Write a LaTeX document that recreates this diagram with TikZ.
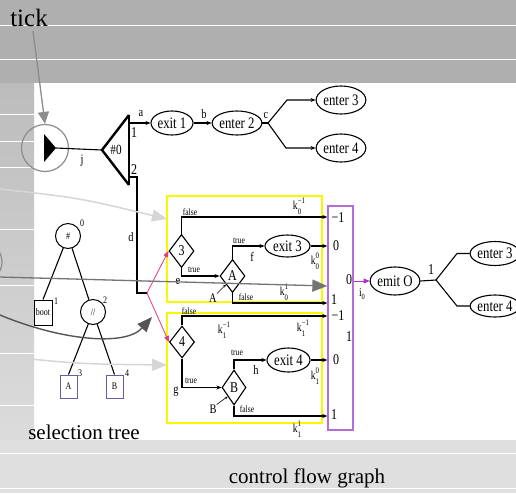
\documentclass[tikz,border=0pt]{standalone}
\usepackage{fontspec}
\setmainfont{Liberation Serif}
\newfontfamily\nfont[FakeStretch=0.8]{Liberation Serif}
\usetikzlibrary{arrows.meta,shapes.geometric}
\newcommand\fsz[1]{\fontsize{#1}{#1}\selectfont}
% k with an upper and a lower index stacked after it
\newcommand\kk[2]{k\raisebox{-4.5pt}{\fsz{8.5}\shortstack[l]{#1\\[2.5pt]#2}}}
\definecolor{bandgray}{HTML}{AFAFAF}
\definecolor{lowgray}{HTML}{DFDFDF}
\definecolor{stripA}{HTML}{BCBCBC}
\definecolor{stripB}{HTML}{DCDCDC}
\definecolor{hlyellow}{HTML}{F8F800}
\definecolor{selpurple}{HTML}{B56CD8}
\definecolor{wirepink}{HTML}{E0388A}
\definecolor{emitpurple}{HTML}{B428D2}
\definecolor{boxviolet}{HTML}{6A5AA8}
\definecolor{ovdark}{HTML}{555555}
\definecolor{ovmid}{HTML}{747474}
\definecolor{ovtick}{HTML}{8C8C8C}
\definecolor{ovlight}{HTML}{D6D6D6}
\tikzset{
  wire/.style={line width=1.1pt, line join=miter},
  arr/.style={wire, -{Stealth[length=5pt,width=4pt]}},
  ev/.style={ellipse, draw, line width=1.1pt, inner sep=0pt,
    minimum width=42pt, minimum height=24pt, font=\nfont\fsz{16}},
  dia/.style={diamond, draw, line width=1.1pt, inner sep=0pt,
    minimum width=25pt, minimum height=33pt, font=\nfont\fsz{15}},
  lab/.style={inner sep=0pt, font=\nfont\fsz{13}},
  tf/.style={inner sep=0pt, font=\nfont\fsz{9.5}},
  kl/.style={inner sep=0pt, font=\nfont\fsz{12}},
  num/.style={inner sep=0pt, font=\nfont\fsz{15}},
  small/.style={inner sep=0pt, font=\nfont\fsz{10}},
  ybox/.style={draw=hlyellow, line width=1.8pt},
  pinkarr/.style={draw=wirepink, line width=0.8pt, -{Triangle[length=6pt,width=5pt,fill=wirepink]}},
  title/.style={inner sep=0pt, font=\fsz{21}},
  treenode/.style={circle, draw, line width=1pt, minimum size=25pt, inner sep=0pt, font=\nfont\fsz{10}},
  leaf/.style={draw=boxviolet, line width=1pt, minimum width=17pt, minimum height=23pt, inner sep=0pt, font=\nfont\fsz{10}},
  bigtip/.style={-{Triangle[length=15pt,width=12pt]}},
}
\begin{document}
\begin{tikzpicture}[x=1pt,y=-1pt]
\useasboundingbox (0,0) rectangle (516,493);
\clip (0,0) rectangle (516,493);

% slide background
\fill[white] (0,0) rectangle (516,493);
\fill[bandgray] (0,0) rectangle (516,83);
\shade[top color=stripA, bottom color=stripB] (0,83) rectangle (34,440);
\fill[lowgray] (0,440) rectangle (516,493);
\foreach \yy in {25,59,453,488} \draw[white, line width=1pt] (0,\yy) -- (516,\yy);
\foreach \yy in {114,141,167,229,285,353,405} \draw[white, line width=1pt] (0,\yy) -- (34,\yy);

% titles
\node[inner sep=0pt, font=\fsz{25}] (tickword) at (29,18) {tick};
\node[title] (seltitle) at (84,432) {selection tree};
\node[title] (cfgtitle) at (307,478) {control flow graph};

% tick source and the #0 selector
\node[circle, draw=ovtick, line width=1.2pt, minimum size=47pt, inner sep=0pt] (tk) at (45,148) {};
\fill (44,134) -- (44,162) -- (56,148) -- cycle;
\coordinate (tip) at (56,148);
\coordinate (apex) at (102,150);
\coordinate (stop) at (129,115);
\coordinate (sbot) at (129,185);
\draw[line width=2.4pt, line join=miter] (stop) -- (apex) -- (sbot);
\draw[line width=2.6pt] (stop) -- (sbot);
\node[inner sep=0pt, font=\nfont\fsz{14}] (sel0) at (116,150) {\#0};
\node[num] (o1) at (134,133) {1};
\node[num] (o2) at (134,170) {2};
\draw[wire] (tip) -- (apex);
\node[lab] (lj) at (82,161) {j};

% first row of the graph
\node[ev] (exit1) at (172,123) {exit 1};
\node[ev, minimum width=46pt] (enter2) at (237,123) {enter 2};
\node[ev, minimum width=44pt, minimum height=28pt] (enter3) at (341,100) {enter 3};
\node[ev, minimum width=44pt, minimum height=28pt] (enter4) at (341,148) {enter 4};
\coordinate (pa) at (129,123);
\coordinate (cc) at (268,123);
\draw[arr] (pa) -- (exit1.west);
\draw[arr] (exit1.east) -- (enter2.west);
\draw[wire] (enter2.east) -- (cc);
\draw[arr] (cc) -- (287,100) -- (enter3.west);
\draw[arr] (cc) -- (286,148) -- (enter4.west);
\node[lab] (la) at (141,114) {a};
\node[lab] (lb) at (204,114) {b};
\node[lab] (lc) at (266,115) {c};

% branch d down to the two test blocks
\coordinate (pd) at (129,177);
\coordinate (split) at (147,293);
\draw[wire] (pd) -- (137,177) -- (137,293) -- (split);
\node[lab] (ld) at (131,237) {d};

% yellow blocks and purple collector
\draw[ybox] (167,196) rectangle (322,302);
\draw[ybox] (167,313) rectangle (322,423);
\node[draw=selpurple, line width=1.3pt, minimum width=25pt, minimum height=224pt, inner sep=0pt] (pb) at (340.5,318) {};

% block for thread 3
\node[dia] (d3) at (181.5,251) {3};
\node[dia] (dA) at (232.5,276) {A};
\node[ev, minimum width=45pt, minimum height=22pt] (x3) at (287.5,246) {exit 3};
\draw[arr] (d3.north) |- (pb.west |- 0,217);
\draw[arr] (d3.south) |- (dA.west);
\draw[arr] (dA.north) |- (x3.west);
\draw[arr] (x3.east) -- (pb.west |- x3.east);
\draw[arr] (dA.south) |- (pb.west |- 0,303);
\node[tf] (f3) at (190,212) {false};
\node[tf] (t3) at (194,270) {true};
\node[tf] (tA) at (239,241) {true};
\node[tf] (fA) at (246,297) {false};
\node[lab] (le) at (178,281) {e};
\node[lab] (lf) at (252,257) {f};
\node[lab] (Alab) at (213,298) {A};
\draw[line width=0.6pt, -{Stealth[length=3pt,width=2.5pt]}] (Alab.north east) -- (dA.south west);
\node[kl] (k03) at (299,206) {\kk{−1}{0}};
\node[kl] (k00) at (315,261) {\kk{0}{0}};
\node[kl] (k01) at (284,292) {\kk{1}{0}};

% block for thread 4
\node[dia, minimum height=32pt] (d4) at (182,342) {4};
\node[dia, minimum width=24pt, minimum height=35pt] (dB) at (234,387.5) {B};
\node[ev, minimum width=43pt, minimum height=24pt] (x4) at (288.5,360) {exit 4};
\draw[arr] (d4.north) |- (pb.west |- 0,316);
\draw[arr] (d4.south) |- (dB.west);
\draw[arr] (dB.north) |- (x4.west);
\draw[arr] (x4.east) -- (pb.west |- x4.east);
\draw[arr, line width=1.6pt] (dB.south) |- (pb.west |- 0,416);
\node[tf] (f4) at (189,311) {false};
\node[tf] (t4) at (191,381) {true};
\node[tf] (tB) at (237,353) {true};
\node[tf] (fB) at (247,409) {false};
\node[lab] (lg) at (176,392) {g};
\node[lab] (lh) at (256,370) {h};
\node[lab] (Blab) at (213,409) {B};
\draw[line width=0.6pt, -{Stealth[length=3pt,width=2.5pt]}] (Blab.north east) -- (dB.south west);
\node[kl] (k14a) at (224,330) {\kk{−1}{1}};
\node[kl] (k14b) at (303,328) {\kk{−1}{1}};
\node[kl] (k10) at (315,376) {\kk{0}{1}};
\node[kl] (k11) at (297,429) {\kk{1}{1}};

% pink fan-out
\draw[pinkarr] (split) -- (d3.west);
\draw[pinkarr] (split) -- (d4.west);

% values in the collector
\node[num] (v1) at (338,218) {−1};
\node[num] (v2) at (336,246) {0};
\node[num] (v3) at (334,300) {1};
\node[num] (v4) at (338,316) {−1};
\node[num] (v5) at (336,360) {0};
\node[num] (v6) at (334,415) {1};
\node[num] (vs0) at (349,280) {0};
\node[num] (vs1) at (349,337) {1};

% emit and last fork
\node[ev, minimum width=44pt, minimum height=28pt] (emit) at (395,281) {emit O};
\draw[draw=emitpurple, line width=0.9pt, -{Triangle[length=6pt,width=5pt]}] (pb.east |- emit.west) -- (emit.west);
\node[kl] (li0) at (362,294) {i\raisebox{-3pt}{\fsz{8}0}};
\node[ev, minimum width=44pt, minimum height=24pt] (enter3b) at (495,253.5) {enter 3};
\node[ev, minimum width=44pt, minimum height=22pt] (enter4b) at (495,306) {enter 4};
\coordinate (br) at (436,280);
\draw[wire] (emit.east) -- (br);
\draw[wire] (br) -- (457,253.5) -- (enter3b.west);
\draw[wire] (br) -- (457,306) -- (enter4b.west);
\node[num] (l1) at (431,270) {1};

% selection tree
\node[treenode] (sroot) at (68,236) {\#};
\node[treenode] (spar) at (93,312) {//};
\node[draw, line width=1pt, minimum width=18pt, minimum height=25pt, inner sep=0pt, font=\nfont\fsz{10}] (sboot) at (43,312.5) {boot};
\node[leaf] (sA) at (68.5,386.5) {A};
\node[leaf] (sB) at (114.5,386.5) {B};
\draw[wire] (sroot) -- (sboot.north);
\draw[wire] (sroot) -- (spar);
\draw[wire] (spar) -- (sA.north);
\draw[wire] (spar) -- (sB.north);
\node[small] (n0) at (82,223) {0};
\node[small] (n1) at (56,301) {1};
\node[small] (n2) at (105,300) {2};
\node[small] (n3) at (80,373) {3};
\node[small] (n4) at (127,373) {4};

% overlay pointers
\coordinate (tickfoot) at (33,31);
\draw[ovtick, line width=1.3pt, -{Triangle[length=12pt,width=11pt]}] (tickfoot) -- (tk.north);
\draw[ovlight, line width=1.5pt, bigtip] (0,189) .. controls (80,198) .. (167,219);
\draw[ovlight, line width=1.5pt, bigtip] (0,356) .. controls (80,364) .. (167,365);
\draw[ovtick, line width=1.2pt] (-18,262) circle (20pt);
\draw[ovmid, line width=1.3pt, bigtip] (0,277) -- (pb.west |- 0,286);
\draw[ovdark, line width=1.4pt, bigtip] (0,315) .. controls (60,340) and (125,347) .. (152,317);
\end{tikzpicture}
\end{document}
